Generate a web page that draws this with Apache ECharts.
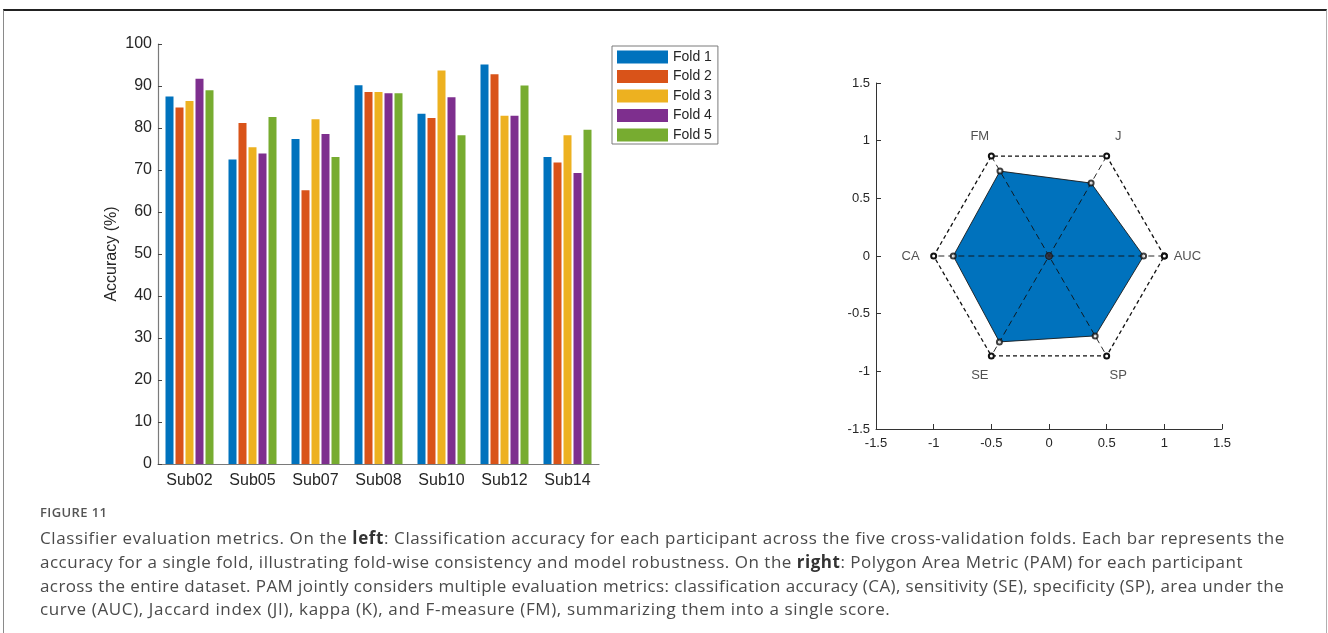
<!DOCTYPE html>
<html>
<head>
<meta charset="utf-8">
<script src="https://cdn.jsdelivr.net/npm/echarts@6/dist/echarts.min.js"></script>
<style>
  html, body { margin: 0; padding: 0; background: #fff; width: 1328px; height: 633px; overflow: hidden; }
  #frame { position: absolute; left: 3px; top: 9px; width: 1322px; height: 640px;
           border-top: 2px solid #222; border-left: 1.5px solid #8a8a8a; border-right: 1.5px solid #b0b0b0; }
  #chart { position: absolute; left: 0; top: 0; width: 1328px; height: 633px; }
  #figlabel { position: absolute; left: 40px; top: 503px; font-family: "Open Sans", sans-serif; font-size: 13px;
              font-weight: 600; color: #555; letter-spacing: 0.4px; }
  #caption { position: absolute; left: 40px; top: 526px; font-family: "Open Sans", sans-serif; font-size: 17px;
             line-height: 23.8px; color: #4a4a4a; white-space: nowrap; }
  #caption span { display: block; }
  #caption b { font-weight: 700; color: #333; }
</style>
</head>
<body>
<div id="frame"></div>
<div id="chart"></div>
<div id="figlabel">FIGURE 11</div>
<div id="caption"><span style="letter-spacing:0.61px">Classifier evaluation metrics. On the <b>left</b>: Classification accuracy for each participant across the five cross-validation folds. Each bar represents the</span><span style="letter-spacing:0.51px">accuracy for a single fold, illustrating fold-wise consistency and model robustness. On the <b>right</b>: Polygon Area Metric (PAM) for each participant</span><span style="letter-spacing:0.40px">across the entire dataset. PAM jointly considers multiple evaluation metrics: classification accuracy (CA), sensitivity (SE), specificity (SP), area under the</span><span style="letter-spacing:0.63px">curve (AUC), Jaccard index (JI), kappa (K), and F-measure (FM), summarizing them into a single score.</span></div>
<script>
// ---- Bar chart data ----
const categories = ['Sub02', 'Sub05', 'Sub07', 'Sub08', 'Sub10', 'Sub12', 'Sub14'];
const foldNames = ['Fold 1', 'Fold 2', 'Fold 3', 'Fold 4', 'Fold 5'];
const fold1 = [87.5, 72.5, 77.4, 90.2, 83.4, 95.1, 73.1];
const fold2 = [84.9, 81.2, 65.2, 88.6, 82.4, 92.8, 71.8];
const fold3 = [86.4, 75.4, 82.1, 88.6, 93.7, 82.9, 78.3];
const fold4 = [91.7, 73.9, 78.6, 88.3, 87.3, 82.9, 69.3];
const fold5 = [89.0, 82.6, 73.1, 88.3, 78.3, 90.1, 79.6];
const foldColors = ['#0072BD', '#D95319', '#EDB120', '#7E2F8E', '#77AC30'];

// ---- Polygon Area Metric data ----
const metrics = ['AUC', 'J', 'FM', 'CA', 'SE', 'SP'];
const metricAngles = [0, 60, 120, 180, 240, 300];
const metricValues = [0.82, 0.73, 0.85, 0.83, 0.86, 0.80];
const pamTicks = [-1.5, 1.5, 0.5];

const rad = a => a * Math.PI / 180;
const polar = (r, a) => [r * Math.cos(rad(a)), r * Math.sin(rad(a))];
const outerPts = metricAngles.map(a => polar(1, a));
const innerPts = metricAngles.map((a, i) => polar(metricValues[i], a));
const labelPts = metricAngles.map((a, i) => polar(1.2, a).concat([metrics[i]]));

const FF = "'Liberation Sans', Arial, Helvetica, sans-serif";
const axisTxt = '#262626';
const folds = [fold1, fold2, fold3, fold4, fold5];

const series = folds.map((d, i) => ({
  name: foldNames[i], type: 'bar', xAxisIndex: 0, yAxisIndex: 0,
  data: d, barWidth: 8, barGap: '25%',
  itemStyle: { color: foldColors[i] }
}));

// filled polygon
series.push({
  type: 'custom', xAxisIndex: 1, yAxisIndex: 1, z: 2,
  data: innerPts, encode: { x: 0, y: 1 },
  renderItem: (params, api) => {
    if (params.dataIndex !== 0) return;
    const pts = innerPts.map(p => api.coord(p));
    return { type: 'polygon', shape: { points: pts },
             style: { fill: '#0072BD', stroke: '#1a1a1a', lineWidth: 0.9 } };
  }
});
// outer dashed hexagon
series.push({
  type: 'line', xAxisIndex: 1, yAxisIndex: 1, z: 4,
  data: outerPts.concat([outerPts[0]]),
  symbol: 'emptyCircle', symbolSize: 5,
  lineStyle: { color: '#111', width: 1.3, type: [4, 3] },
  itemStyle: { color: '#111', borderWidth: 1.2 }
});
// diagonals through centre
for (let k = 0; k < 3; k++) {
  series.push({
    type: 'line', xAxisIndex: 1, yAxisIndex: 1, z: 4,
    data: [outerPts[k], outerPts[k + 3]],
    symbol: 'none',
    lineStyle: { color: '#111', width: 0.9, type: [6, 4] }
  });
}
// inner vertex markers
series.push({
  type: 'scatter', xAxisIndex: 1, yAxisIndex: 1, z: 5,
  data: innerPts, symbol: 'emptyCircle', symbolSize: 5,
  itemStyle: { color: '#111', borderWidth: 1 }
});
// centre marker
series.push({
  type: 'scatter', xAxisIndex: 1, yAxisIndex: 1, z: 5,
  data: [[0, 0]], symbol: 'circle', symbolSize: 7,
  itemStyle: { color: '#3a2a30', borderColor: '#111', borderWidth: 1 }
});
// metric labels
series.push({
  type: 'scatter', xAxisIndex: 1, yAxisIndex: 1, z: 5,
  data: labelPts, symbolSize: 0,
  label: { show: true, position: 'inside', formatter: p => p.value[2],
           color: axisTxt, fontSize: 13, fontFamily: FF }
});

const chart = echarts.init(document.getElementById('chart'));
chart.setOption({
  animation: false,
  textStyle: { fontFamily: FF },
  grid: [
    { left: 158, top: 44, width: 441, height: 420 },
    { left: 876, top: 83, width: 346, height: 346 }
  ],
  legend: {
    data: foldNames, orient: 'vertical', left: 612, top: 46,
    padding: [4, 6, 2, 5], itemWidth: 51, itemHeight: 13, itemGap: 5.5,
    icon: 'rect', borderColor: '#7a7a7a', borderWidth: 1,
    textStyle: { fontSize: 14, color: axisTxt, lineHeight: 14, fontFamily: FF }
  },
  xAxis: [
    { type: 'category', gridIndex: 0, data: categories,
      axisLine: { lineStyle: { color: '#7a7a7a', width: 1.2 } },
      axisTick: { inside: true, alignWithLabel: true, length: 4, lineStyle: { color: '#444' } },
      axisLabel: { fontSize: 16, color: axisTxt, margin: 9, fontFamily: FF } },
    { type: 'value', gridIndex: 1, min: pamTicks[0], max: pamTicks[1], interval: pamTicks[2],
      axisLine: { show: true, onZero: false, lineStyle: { color: '#333', width: 1 } },
      axisTick: { show: true, inside: true, length: 5, lineStyle: { color: '#333' } },
      splitLine: { show: false },
      axisLabel: { fontSize: 13, color: axisTxt, margin: 8, fontFamily: FF } }
  ],
  yAxis: [
    { type: 'value', gridIndex: 0, min: 0, max: 100, interval: 10,
      name: 'Accuracy (%)', nameLocation: 'middle', nameGap: 38,
      nameTextStyle: { fontSize: 16, color: axisTxt, fontFamily: FF },
      axisLine: { show: true, lineStyle: { color: '#7a7a7a', width: 1.2 } },
      axisTick: { show: true, inside: true, length: 4, lineStyle: { color: '#444' } },
      splitLine: { show: false },
      axisLabel: { fontSize: 16, color: axisTxt, margin: 6, fontFamily: FF } },
    { type: 'value', gridIndex: 1, min: pamTicks[0], max: pamTicks[1], interval: pamTicks[2],
      axisLine: { show: true, onZero: false, lineStyle: { color: '#333', width: 1 } },
      axisTick: { show: true, inside: true, length: 5, lineStyle: { color: '#333' } },
      splitLine: { show: false },
      axisLabel: { fontSize: 13, color: axisTxt, margin: 6, fontFamily: FF } }
  ],
  series: series
});
</script>
</body>
</html>
